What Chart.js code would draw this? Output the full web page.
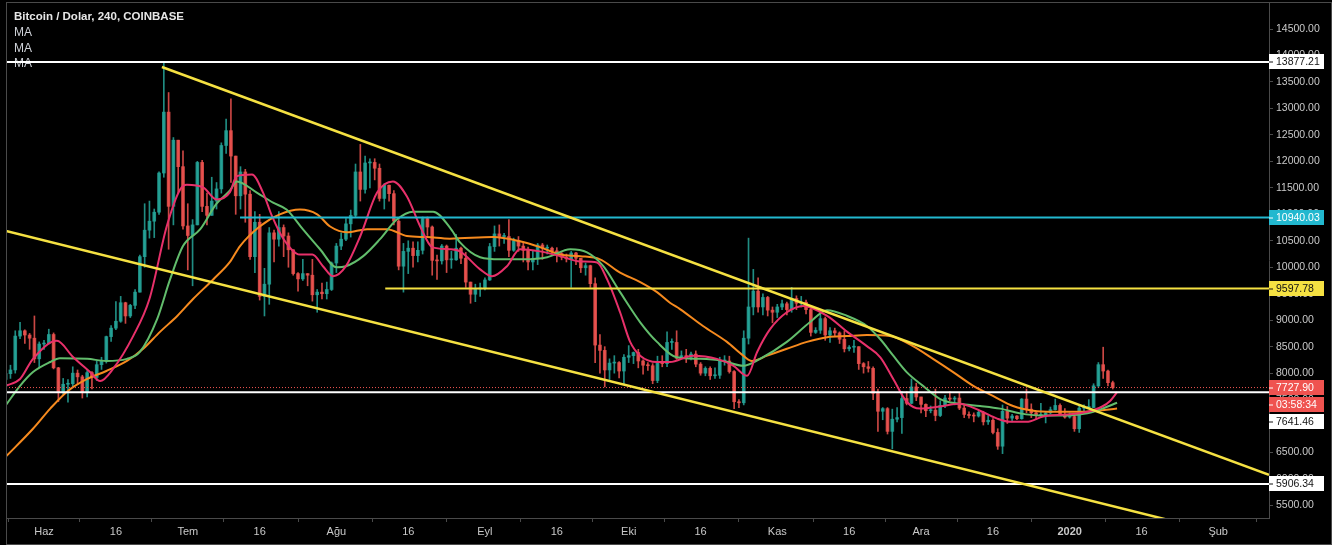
<!DOCTYPE html>
<html>
<head>
<meta charset="utf-8">
<title>Bitcoin / Dolar, 240, COINBASE</title>
<script src="https://cdn.jsdelivr.net/npm/chart.js@4.4.1/dist/chart.umd.min.js"></script>
<style>
  html, body { margin: 0; padding: 0; background: #000; overflow: hidden; }
  #wrap { width: 1332px; height: 545px; }
</style>
</head>
<body>
<div id="wrap"><canvas id="btcChart" width="1332" height="545"></canvas></div>
<script>
// x = days since 1 Haz 2019 (day 0). Daily candles from day -8 (24 May) to day 223 (10 Jan)
const firstCandleDay = -8;
const firstOpen = 7880;
const closes = [
  7990, 8060, 8700, 8800, 8720, 8660, 8270, 8550,
  8560, 8730, 8100, 7650, 7790, 7800, 8000, 7930, 7630, 8010,
  7920, 8160, 8230, 8690, 8850, 8980, 9330, 9080, 9280, 9530,
  10200, 10700, 10870, 11040, 11780, 12930, 11150, 12400, 11900, 10780,
  10600, 10800, 11980, 11150, 10980, 11250, 11480, 12300, 12580, 12100,
  11350, 11800, 11380, 10200, 10850, 9450, 9680, 10650, 10530, 10750,
  10590, 10330, 9880, 9780, 9880, 9850, 9480, 9530, 9500, 9580,
  10080, 10400, 10530, 10820, 10980, 11800, 11470, 11970, 11980, 11870,
  11300, 11550, 11390, 10870, 10020, 10300, 10360, 10220, 10320, 10920,
  10760, 10130, 10120, 10400, 10140, 10140, 10360, 10170, 9720, 9490,
  9590, 9600, 9760, 10390, 10630, 10580, 10580, 10320, 10500, 10400,
  10320, 10100, 10160, 10420, 10360, 10360, 10310, 10260, 10190, 10160,
  10270, 10170, 9990, 10030, 9690, 8530, 8430, 8060, 8190, 8200,
  8040, 8300, 8330, 8390, 8230, 8150, 8140, 7860, 8210, 8180,
  8580, 8580, 8280, 8330, 8300, 8360, 8170, 8000, 8090, 7950,
  7960, 8230, 8230, 8030, 7460, 7440, 8660, 9250, 9550, 9250,
  9430, 9190, 9150, 9250, 9310, 9200, 9410, 9320, 9340, 9200,
  8770, 8810, 9030, 8720, 8800, 8760, 8640, 8460, 8490, 8500,
  8180, 8120, 8090, 7620, 7280, 7330, 6900, 7130, 7160, 7520,
  7430, 7740, 7550, 7410, 7290, 7300, 7200, 7390, 7530, 7510,
  7530, 7340, 7220, 7200, 7190, 7260, 7080, 7110, 6880, 6620,
  7280, 7150, 7190, 7140, 7510, 7320, 7250, 7200, 7200, 7250,
  7310, 7390, 7220, 7170, 7180, 6950, 7340, 7350, 7350, 7760,
  8160, 8040, 7820, 7727.9
];
const highs = [
  8150, 8150, 8800, 8960, 8820, 8750, 9080, 8590,
  8620, 8830, 8760, 8110, 7900, 7880, 8120, 8060, 7960, 8050,
  8030, 8230, 8300, 8700, 8900, 9350, 9450, 9340, 9300, 9580,
  10230, 11200, 11250, 11100, 11800, 13860, 13300, 12450, 12400, 12200,
  11200, 10900, 12000, 12020, 11400, 11700, 11600, 12350, 12800, 13180,
  12100, 11900, 11850, 11450, 11050, 11000, 9980, 10750, 10700, 11050,
  10800, 10650, 10330, 9900, 10150, 9880, 10150, 9580, 9700, 9720,
  10100, 10450, 10650, 10920, 11080, 11950, 12320, 12100, 12050, 12050,
  11950, 11580, 11550, 11450, 10900, 10450, 10500, 10480, 10480, 10950,
  10950, 10780, 10230, 10430, 10420, 10300, 10620, 10380, 10280, 9720,
  9680, 9700, 9800, 10450, 10780, 10800, 10640, 10900, 10550, 10580,
  10470, 10380, 10300, 10450, 10450, 10420, 10380, 10370, 10280, 10250,
  10300, 10280, 10170, 10080, 10040, 9800, 8730, 8500, 8270, 8330,
  8220, 8350, 8520, 8400, 8450, 8250, 8200, 8180, 8320, 8330,
  8780, 8650, 8800, 8420, 8450, 8400, 8420, 8200, 8120, 8120,
  8100, 8300, 8330, 8320, 8050, 7500, 8800, 10550, 9960, 9800,
  9500, 9450, 9250, 9300, 9380, 9340, 9620, 9460, 9450, 9380,
  9220, 8860, 9130, 9060, 8860, 8850, 8780, 8800, 8520, 8620,
  8500, 8200, 8220, 8120, 7700, 7350, 7350, 7320, 7350, 7650,
  7650, 7890, 7810, 7550, 7420, 7380, 7700, 7480, 7580, 7650,
  7560, 7630, 7390, 7270, 7250, 7300, 7280, 7200, 7140, 6950,
  7400, 7370, 7220, 7200, 7520, 7700, 7420, 7260, 7430, 7270,
  7360, 7510, 7420, 7330, 7250, 7210, 7400, 7400, 7500, 7800,
  8200, 8490, 8060, 7850
];
const lows = [
  7750, 7900, 8000, 8650, 8560, 8450, 8200, 8100,
  8450, 8550, 8080, 7460, 7600, 7450, 7740, 7800, 7530, 7550,
  7700, 7860, 8070, 8190, 8600, 8820, 8960, 8940, 9050, 9220,
  9530, 10000, 10550, 10560, 11000, 11700, 10340, 10800, 11400, 10720,
  9950, 9650, 10800, 11050, 10800, 10980, 11100, 11400, 12150, 11600,
  11000, 11100, 10850, 10150, 9900, 9380, 9080, 9300, 10100, 10400,
  10200, 10000, 9850, 9550, 9750, 9650, 9360, 9150, 9400, 9400,
  9560, 9900, 10330, 10500, 10570, 10950, 11250, 11400, 11500, 11650,
  11250, 11100, 11250, 10800, 9950, 9530, 9880, 10000, 10100, 10250,
  10600, 9850, 9770, 10060, 9900, 9980, 10130, 10070, 9620, 9320,
  9350, 9450, 9570, 9750, 10300, 10400, 10450, 10200, 10300, 10300,
  10100, 9950, 9950, 10050, 10150, 10250, 10250, 10100, 10140, 10100,
  9620, 10050, 9900, 9850, 9620, 8200, 8000, 7740, 7880, 8000,
  7910, 7780, 8200, 8180, 8100, 7980, 8050, 7800, 7820, 8120,
  8120, 8450, 8260, 8270, 8200, 8250, 8120, 7960, 7950, 7880,
  7900, 7900, 8150, 8000, 7330, 7350, 7400, 8550, 9100, 9150,
  9100, 9080, 8950, 9050, 9200, 9100, 9150, 9200, 9250, 9120,
  8700, 8750, 8750, 8620, 8580, 8700, 8560, 8400, 8420, 8390,
  8070, 8000, 8020, 7500, 6900, 7120, 6850, 6570, 7080, 6860,
  7400, 7420, 7480, 7250, 7180, 7250, 7100, 7180, 7350, 7480,
  7400, 7310, 7160, 7150, 7080, 7170, 7020, 7030, 6850, 6560,
  6480, 7050, 7080, 7120, 7130, 7250, 7160, 7130, 7160, 7060,
  7230, 7300, 7200, 7150, 7150, 6900, 6880, 7270, 7330, 7350,
  7730, 7900, 7760, 7700
];

// moving averages (day, price)
const maFastDays = [-8, -5, -2.3, 2.7, 6, 9.6, 11.7, 14.4, 18.6, 22, 25.6, 28.4, 29.8, 33.2, 36, 38.8, 40.2, 43.4, 45.7, 47.6, 50, 53.4, 56, 58.2, 60.3, 63, 66, 69.5, 72.8, 75.7, 78.5, 81, 84.7, 86.8, 91, 93.5, 96.6, 99.3, 103.5, 107.7, 111.9, 115.4, 117.5, 120.2, 122.3, 124.4, 127.9, 130.6, 135.4, 140.4, 143.8, 146.7, 148.8, 151.5, 155, 158.4, 163.4, 167.6, 171.7, 174.5, 177.2, 180, 182.8, 187, 191, 195.3, 198.9, 201.6, 205, 208.5, 213.5, 217.7, 220.8, 222.5, 223.9];
const maFast = [7760, 7890, 8270, 8610, 8310, 8020, 7850, 8080, 8700, 9400, 10770, 11470, 11560, 11510, 11280, 11420, 11720, 11750, 11410, 10960, 10530, 10240, 10240, 10020, 9830, 10020, 10590, 11410, 11620, 11340, 10770, 10380, 10340, 10300, 9960, 9830, 10020, 10340, 10300, 10210, 10110, 10090, 9770, 9150, 8590, 8330, 8210, 8210, 8330, 8270, 8140, 7950, 8400, 8830, 9150, 9270, 9080, 8780, 8510, 8300, 7890, 7460, 7330, 7370, 7420, 7290, 7140, 7080, 7080, 7180, 7220, 7270, 7370, 7480, 7640];

const maMidDays = [-8, -5, -2.3, 1.3, 3.3, 9, 13, 17.3, 20, 23.6, 26.3, 29, 32.6, 36, 38.8, 40.2, 44.4, 47.8, 50.6, 54, 57.6, 61, 63, 66.6, 70.1, 73.6, 77, 81.2, 84.7, 86.8, 91, 95.2, 100, 105, 109.8, 113.3, 116.7, 120.2, 124.4, 127.9, 132, 136.9, 141.7, 145.9, 149.4, 155, 159.8, 163.4, 167.6, 171.7, 174.5, 177.2, 180, 183.4, 187, 191, 195.3, 199.5, 203.7, 207.8, 213.5, 217.7, 220.8, 223.9];
const maMid = [7390, 7760, 8020, 8210, 8280, 8270, 8230, 8270, 8400, 9020, 9770, 10400, 10720, 11200, 11450, 11620, 11410, 11220, 11090, 10720, 10340, 10000, 10020, 10210, 10530, 10900, 11050, 11050, 10750, 10470, 10190, 10150, 10150, 10190, 10340, 10280, 10020, 9530, 8960, 8590, 8300, 8270, 8230, 8140, 8270, 8590, 8960, 9190, 9080, 8890, 8640, 8330, 8020, 7760, 7510, 7420, 7380, 7330, 7240, 7200, 7200, 7240, 7330, 7440];

const maSlowDays = [-8, -2.3, 1.3, 4.8, 9, 13, 17.3, 20.7, 24.2, 27.8, 31.1, 35.3, 38.8, 40.9, 45, 49.2, 53.4, 57, 59.7, 63.2, 67.4, 71.6, 75.7, 79.9, 84.7, 93.7, 99.3, 103.5, 107.7, 111.9, 116, 120.2, 124.4, 127.9, 130.6, 132.7, 137.5, 142.5, 145.9, 147.7, 150.9, 155, 159.2, 163.4, 167.6, 171.7, 176.5, 181.3, 185.5, 189.7, 193.9, 198, 202.2, 206.4, 210.6, 214.7, 218.9, 223.9];
const maSlow = [6420, 6950, 7330, 7650, 7890, 8040, 8230, 8460, 8780, 9080, 9400, 9770, 10100, 10400, 10770, 11000, 11090, 11000, 10770, 10660, 10720, 10720, 10590, 10570, 10540, 10570, 10490, 10380, 10240, 10210, 10150, 9900, 9720, 9530, 9330, 9210, 8890, 8590, 8330, 8230, 8330, 8460, 8590, 8680, 8700, 8720, 8700, 8510, 8270, 8020, 7760, 7570, 7380, 7290, 7270, 7270, 7280, 7330];

// drawn levels and trend lines
const levelPrices = [13877.21, 10940.03, 9597.78, 7641.46, 5906.34];
const levelStartDays = [-7.93, 40.9, 71.2, -7.93, -7.93];
const levelColors = ['#ffffff', '#22b8cf', '#f5e142', '#ffffff', '#ffffff'];
const upperTrendDays = [24.6, 255.6];
const upperTrendPrices = [13783, 6081];
const lowerTrendDays = [-7.93, 255.6];
const lowerTrendPrices = [10685, 4754];
const lastPrice = 7727.90;
const countdown = '03:58:34';

// axes
const xMin = -7.93, xMax = 255.6;
const yMin = 5264, yMax = 15010;
const priceTicks = [5500, 6000, 6500, 7000, 7500, 8000, 8500, 9000, 9500, 10000, 10500, 11000, 11500, 12000, 12500, 13000, 13500, 14000, 14500];
const dateTickDays = [0, 15, 30, 45, 61, 76, 92, 107, 122, 137, 153, 168, 183, 198, 214, 229, 245];
const dateTickLabels = ['Haz', '16', 'Tem', '16', 'Ağu', '16', 'Eyl', '16', 'Eki', '16', 'Kas', '16', 'Ara', '16', '2020', '16', 'Şub'];

const UP = 'rgba(38,166,154,0.85)';
const DOWN = 'rgba(239,83,80,0.85)';
const AXIS_GREY = '#4a4a4a';
const LABEL = '#c9c9c9';
const FONT = '"Liberation Sans", Arial, sans-serif';

// candle bars (wick + body as floating bars)
const wicks = [], bodies = [], candleColors = [];
for (let i = 0; i < closes.length; i++) {
    const day = firstCandleDay + i;
    const open = i === 0 ? firstOpen : closes[i - 1];
    wicks.push({ x: day, y: [lows[i], highs[i]] });
    bodies.push({ x: day, y: [open, closes[i]] });
    candleColors.push(closes[i] >= open ? UP : DOWN);
}

function xy(days, values) {
    return days.map((d, i) => ({ x: d, y: values[i] }));
}

function maLine(days, values, color, order) {
    return {
        type: 'line',
        data: xy(days, values),
        borderColor: color,
        borderWidth: 2,
        pointRadius: 0,
        cubicInterpolationMode: 'monotone',
        order: order
    };
}

function straightLine(days, prices, color, width, order, dash) {
    return {
        type: 'line',
        data: xy(days, prices),
        borderColor: color,
        borderWidth: width,
        borderDash: dash || [],
        pointRadius: 0,
        tension: 0,
        order: order
    };
}

const levelDatasets = levelPrices.map((p, i) =>
    straightLine([levelStartDays[i], xMax], [p, p], levelColors[i], 2, 1));

// ===== TEXT + PRICE BOXES =====
const chartText = {
    id: 'chartText',
    beforeDatasetsDraw(chart) {
        const c = chart.ctx;
        c.save();
        c.textBaseline = 'middle';
        c.fillStyle = '#e6e6e6';
        c.font = 'bold 11.5px ' + FONT;
        c.fillText('Bitcoin / Dolar, 240, COINBASE', 14, 17);
        c.fillStyle = '#cfd2d8';
        c.font = '12px ' + FONT;
        ['MA', 'MA', 'MA'].forEach((t, i) => c.fillText(t, 14, 33 + i * 15.5));
        c.restore();
    },
    afterDraw(chart) {
        const c = chart.ctx;
        const y = chart.scales.y;
        const left = chart.chartArea.right;
        const h = 15;
        const boxes = [
            { v: levelPrices[0], text: levelPrices[0].toFixed(2), bg: '#ffffff', fg: '#111' },
            { v: levelPrices[1], text: levelPrices[1].toFixed(2), bg: '#22b8cf', fg: '#fff' },
            { v: levelPrices[2], text: levelPrices[2].toFixed(2), bg: '#f5e142', fg: '#111' },
            { v: lastPrice, text: lastPrice.toFixed(2), bg: '#ef5350', fg: '#fff' },
            { v: lastPrice, text: countdown, bg: '#ef5350', fg: '#fff', below: true },
            { v: levelPrices[3], text: levelPrices[3].toFixed(2), bg: '#ffffff', fg: '#111' },
            { v: levelPrices[4], text: levelPrices[4].toFixed(2), bg: '#ffffff', fg: '#111' }
        ];
        let prevBottom = -Infinity;
        c.save();
        c.font = '10.5px ' + FONT;
        c.textBaseline = 'middle';
        boxes.forEach(b => {
            let cy = y.getPixelForValue(b.v);
            if (b.below || cy - h / 2 < prevBottom + 2) cy = prevBottom + 2 + h / 2;
            const top = Math.round(cy - h / 2);
            c.fillStyle = b.bg;
            c.fillRect(left, top, 55, h);
            c.strokeStyle = b.fg;
            c.lineWidth = 1;
            c.beginPath();
            c.moveTo(left, top + h / 2 + 0.5);
            c.lineTo(left + 4, top + h / 2 + 0.5);
            c.stroke();
            c.fillStyle = b.fg;
            c.fillText(b.text, left + 7, top + h / 2 + 1);
            prevBottom = top + h;
        });
        // outer frame
        c.strokeStyle = AXIS_GREY;
        c.lineWidth = 1;
        c.strokeRect(6.5, 2.5, 1325, 542);
        c.restore();
    }
};

const ctx = document.getElementById('btcChart');
new Chart(ctx, {
    type: 'bar',
    data: {
        datasets: [
            { data: wicks, backgroundColor: candleColors, barThickness: 1, grouped: false, order: 12 },
            { data: bodies, backgroundColor: candleColors, barThickness: 3, minBarLength: 1, grouped: false, order: 11 },
            maLine(maSlowDays, maSlow, '#f68a1e', 8),
            maLine(maMidDays, maMid, '#62bd6c', 7),
            maLine(maFastDays, maFast, '#e8306a', 6),
            straightLine([xMin, xMax], [lastPrice, lastPrice], '#ef5350', 1, 5, [1, 2]),
            ...levelDatasets,
            straightLine(upperTrendDays, upperTrendPrices, '#f5e142', 2.5, 0),
            straightLine(lowerTrendDays, lowerTrendPrices, '#f5e142', 2.5, 0)
        ]
    },
    options: {
        responsive: false,
        animation: false,
        devicePixelRatio: 1,
        layout: { padding: { left: 6, top: 2, right: 1, bottom: 1 } },
        plugins: { legend: { display: false }, tooltip: { enabled: false } },
        scales: {
            x: {
                type: 'linear',
                min: xMin,
                max: xMax,
                offset: false,
                grid: { drawOnChartArea: false, color: AXIS_GREY, tickLength: 4 },
                border: { color: AXIS_GREY },
                ticks: {
                    color: LABEL,
                    autoSkip: false,
                    maxRotation: 0,
                    padding: 3,
                    font: c => ({ family: FONT, size: 11, weight: c.tick && c.tick.value === 214 ? 'bold' : 'normal' }),
                    callback: (v, i) => dateTickLabels[i]
                },
                afterBuildTicks: s => { s.ticks = dateTickDays.map(v => ({ value: v })); },
                afterFit: s => { s.height = 26; s.paddingLeft = 0; s.paddingRight = 0; }
            },
            y: {
                position: 'right',
                min: yMin,
                max: yMax,
                grid: { drawOnChartArea: false, color: AXIS_GREY, tickLength: 4 },
                border: { color: AXIS_GREY },
                ticks: {
                    color: LABEL,
                    padding: 3,
                    font: { family: FONT, size: 10.5 },
                    callback: v => Number(v).toFixed(2)
                },
                afterBuildTicks: s => { s.ticks = priceTicks.map(v => ({ value: v })); },
                afterFit: s => { s.width = 62; s.paddingTop = 0; s.paddingBottom = 0; }
            }
        }
    },
    plugins: [chartText]
});
</script>
</body>
</html>
